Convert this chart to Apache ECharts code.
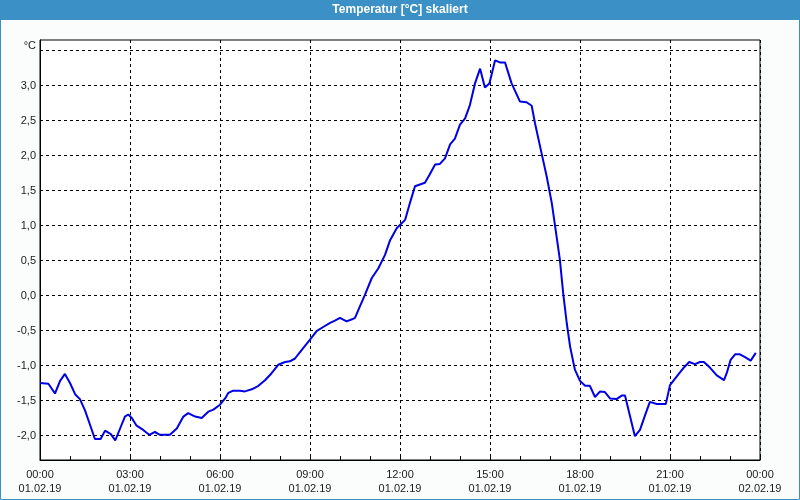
<!DOCTYPE html>
<html>
<head>
<meta charset="utf-8">
<script src="https://cdn.jsdelivr.net/npm/echarts@6/dist/echarts.min.js"></script>
<style>
html,body{margin:0;padding:0;background:#fbfdfd;}
#chart{width:800px;height:500px;}
</style>
</head>
<body>
<div id="chart"></div>
<script>
// Hours since 00:00 01.02.19
const hours = [0,0.28,0.5,0.67,0.83,1.0,1.17,1.33,1.5,1.67,1.83,2.02,2.17,2.36,2.51,2.67,2.83,2.94,3.06,3.22,3.44,3.64,3.83,4.0,4.33,4.56,4.78,4.94,5.17,5.39,5.61,5.78,6.0,6.17,6.28,6.44,6.67,6.83,7.06,7.28,7.5,7.72,7.94,8.17,8.33,8.5,8.72,9.0,9.22,9.44,9.67,9.83,10.0,10.22,10.4,10.5,10.61,10.83,11.06,11.28,11.5,11.67,11.89,12.17,12.33,12.5,12.83,12.98,13.17,13.33,13.5,13.67,13.83,14.0,14.17,14.33,14.5,14.67,14.83,14.98,15.17,15.33,15.5,15.72,16.0,16.22,16.39,16.5,16.72,16.89,17.06,17.22,17.33,17.44,17.56,17.67,17.83,18.0,18.17,18.33,18.5,18.67,18.83,19.0,19.22,19.39,19.5,19.67,19.83,20.0,20.17,20.33,20.56,20.86,21.0,21.22,21.44,21.64,21.83,22.0,22.13,22.33,22.56,22.8,22.89,23.02,23.17,23.33,23.5,23.69,23.86];
const temps = [-1.25,-1.26,-1.40,-1.22,-1.12,-1.25,-1.41,-1.48,-1.64,-1.85,-2.05,-2.05,-1.93,-1.98,-2.07,-1.90,-1.73,-1.70,-1.75,-1.86,-1.92,-1.99,-1.95,-1.99,-1.99,-1.90,-1.73,-1.68,-1.73,-1.75,-1.66,-1.63,-1.56,-1.47,-1.39,-1.36,-1.36,-1.37,-1.34,-1.29,-1.21,-1.11,-0.99,-0.95,-0.94,-0.90,-0.78,-0.63,-0.51,-0.45,-0.39,-0.36,-0.32,-0.37,-0.34,-0.32,-0.21,0.01,0.25,0.39,0.58,0.79,0.96,1.08,1.32,1.56,1.61,1.72,1.87,1.88,1.96,2.16,2.24,2.44,2.53,2.72,3.03,3.24,2.97,3.03,3.36,3.33,3.33,3.03,2.77,2.76,2.71,2.46,2.03,1.70,1.32,0.84,0.51,0.03,-0.40,-0.73,-1.06,-1.22,-1.29,-1.29,-1.45,-1.37,-1.38,-1.47,-1.48,-1.43,-1.43,-1.73,-2.01,-1.92,-1.71,-1.52,-1.55,-1.55,-1.28,-1.16,-1.04,-0.95,-0.98,-0.95,-0.95,-1.03,-1.14,-1.21,-1.11,-0.92,-0.84,-0.84,-0.88,-0.93,-0.82];
const yGridValues = [-2.0,-1.5,-1.0,-0.5,0.0,0.5,1.0,1.5,2.0,2.5,3.0,3.5];
const yLabelValues = [-2.0,-1.5,-1.0,-0.5,0.0,0.5,1.0,1.5,2.0,2.5,3.0];
const xTickHours = [0,3,6,9,12,15,18,21,24];
const dayLabels = ['01.02.19','02.02.19'];
const titleText = 'Temperatur [°C] skaliert';
const unitText = '°C';

const seriesData = hours.map((h, i) => [h, temps[i]]);
const font = 'Liberation Sans, Arial, sans-serif';

const chart = echarts.init(document.getElementById('chart'), null, {renderer: 'canvas'});
chart.setOption({
  animation: false,
  backgroundColor: '#fbfdfd',
  graphic: [
    {type: 'rect', shape: {x: 0, y: 0, width: 800, height: 20}, style: {fill: '#3b91c5'}, z: 0},
    {type: 'rect', shape: {x: 0.5, y: 0.5, width: 799, height: 499}, style: {fill: 'none', stroke: '#3b91c5', lineWidth: 1}, z: 0},
    {type: 'text', x: 400, y: 10, style: {text: titleText, fill: '#ffffff', font: 'bold 12px ' + font, align: 'center', verticalAlign: 'middle'}, z: 1}
  ],
  grid: {left: 40, right: 40, top: 40, bottom: 40, show: true, backgroundColor: '#ffffff', borderColor: '#000000', borderWidth: 1},
  xAxis: {
    type: 'value', min: 0, max: 24, interval: 3,
    customValues: xTickHours,
    axisLine: {show: true, onZero: false, lineStyle: {color: '#000'}},
    axisTick: {show: true, inside: true, length: 4, lineStyle: {color: '#000'}},
    minorTick: {show: true, splitNumber: 3, length: 4, lineStyle: {color: '#000'}},
    splitLine: {show: true, lineStyle: {color: '#000', type: [3, 3], width: 1}},
    axisLabel: {
      margin: 8, color: '#1a1a1a', fontFamily: font, fontSize: 11, lineHeight: 14,
      formatter: function (v) {
        const hh = Math.round(v) % 24;
        const day = v >= 24 ? dayLabels[1] : dayLabels[0];
        return (hh < 10 ? '0' : '') + hh + ':00\n' + day;
      }
    }
  },
  yAxis: {
    type: 'value', min: -2.35, max: 3.65,
    name: unitText, nameLocation: 'end', nameGap: -6,
    nameTextStyle: {color: '#1a1a1a', fontFamily: font, fontSize: 11, align: 'right', verticalAlign: 'middle', padding: [0, 4, 0, 0]},
    axisLine: {show: true, onZero: false, lineStyle: {color: '#000'}},
    axisTick: {show: false, customValues: yGridValues},
    splitLine: {show: true, lineStyle: {color: '#000', type: [3, 3], width: 1}},
    axisLabel: {
      customValues: yLabelValues, margin: 4, color: '#1a1a1a', fontFamily: font, fontSize: 11,
      formatter: function (v) { return v.toFixed(1).replace('.', ','); }
    }
  },
  series: [{
    type: 'line', data: seriesData, showSymbol: false, symbol: 'none',
    lineStyle: {color: '#0000e6', width: 2}, clip: true
  }]
});
</script>
</body>
</html>
